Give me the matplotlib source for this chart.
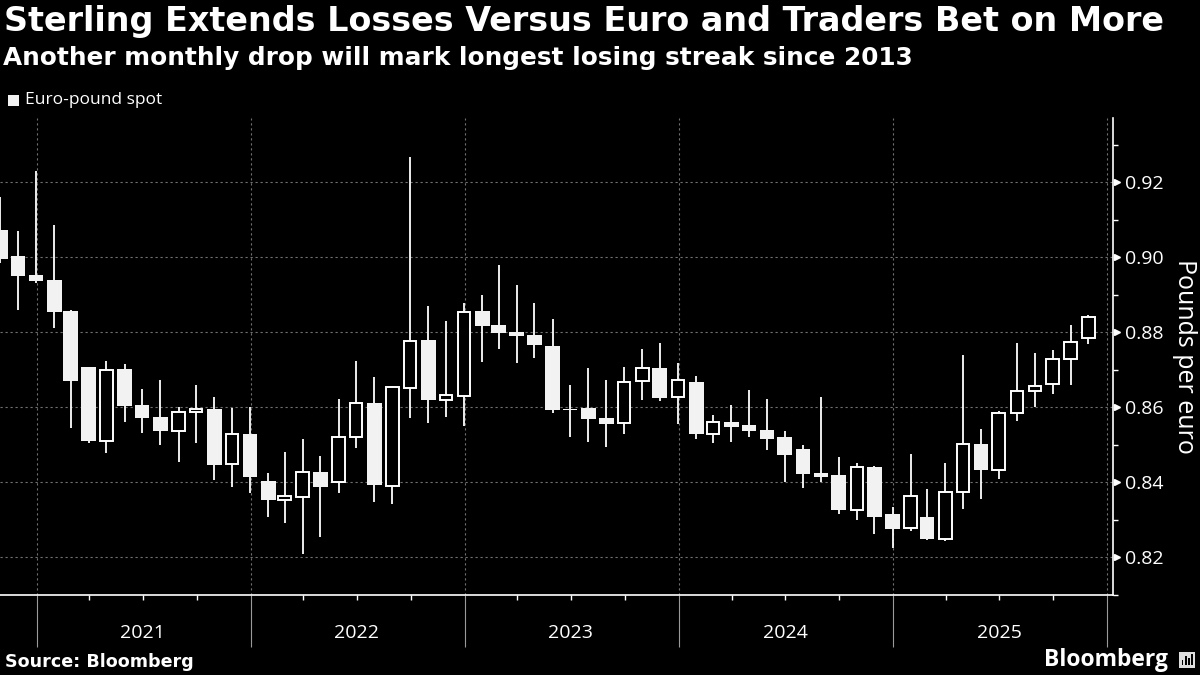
import matplotlib
matplotlib.use("Agg")
import matplotlib.pyplot as plt
import matplotlib.dates as mdates
from matplotlib.patches import Rectangle
import pandas as pd

# ---- data (monthly EUR/GBP candles, Oct 2020 - Nov 2025) ----
months = pd.date_range("2020-10-31", periods=62, freq="ME")
opens = [0.9072, 0.9003, 0.8952, 0.8939, 0.8856, 0.8707, 0.8510, 0.8701, 0.8605, 0.8573,
         0.8537, 0.8586, 0.8595, 0.8447, 0.8528, 0.8403, 0.8353, 0.8361, 0.8426, 0.8399,
         0.8519, 0.8610, 0.8390, 0.8651, 0.8778, 0.8620, 0.8630, 0.8856, 0.8819, 0.8800,
         0.8792, 0.8763, 0.8596, 0.8597, 0.8570, 0.8557, 0.8669, 0.8704, 0.8626, 0.8667,
         0.8527, 0.8560, 0.8552, 0.8539, 0.8520, 0.8488, 0.8423, 0.8419, 0.8326, 0.8440,
         0.8315, 0.8278, 0.8307, 0.8249, 0.8373, 0.8501, 0.8433, 0.8583, 0.8644, 0.8661,
         0.8727, 0.8783]
highs = [0.9161, 0.9069, 0.9229, 0.9085, 0.8859, 0.8707, 0.8723, 0.8715, 0.8648, 0.8672,
         0.8599, 0.8659, 0.8626, 0.8597, 0.8601, 0.8423, 0.8479, 0.8514, 0.8469, 0.8621,
         0.8723, 0.8679, 0.8655, 0.9266, 0.8869, 0.8829, 0.8877, 0.8898, 0.8979, 0.8925,
         0.8877, 0.8836, 0.8658, 0.8703, 0.8671, 0.8707, 0.8755, 0.8770, 0.8717, 0.8684,
         0.8578, 0.8605, 0.8645, 0.8621, 0.8536, 0.8500, 0.8626, 0.8466, 0.8450, 0.8444,
         0.8333, 0.8475, 0.8381, 0.8450, 0.8739, 0.8541, 0.8589, 0.8770, 0.8743, 0.8751,
         0.8819, 0.8845]
lows = [0.8983, 0.8860, 0.8930, 0.8811, 0.8543, 0.8503, 0.8477, 0.8561, 0.8531, 0.8499,
        0.8454, 0.8505, 0.8405, 0.8386, 0.8370, 0.8306, 0.8290, 0.8207, 0.8253, 0.8370,
        0.8490, 0.8348, 0.8341, 0.8570, 0.8558, 0.8574, 0.8550, 0.8721, 0.8756, 0.8718,
        0.8730, 0.8583, 0.8521, 0.8506, 0.8493, 0.8527, 0.8620, 0.8616, 0.8554, 0.8514,
        0.8503, 0.8506, 0.8521, 0.8485, 0.8399, 0.8384, 0.8401, 0.8314, 0.8299, 0.8261,
        0.8223, 0.8270, 0.8245, 0.8243, 0.8327, 0.8356, 0.8409, 0.8562, 0.8599, 0.8636,
        0.8660, 0.8767]
closes = [0.8995, 0.8949, 0.8937, 0.8853, 0.8670, 0.8510, 0.8700, 0.8603, 0.8571, 0.8537,
          0.8586, 0.8594, 0.8446, 0.8528, 0.8414, 0.8352, 0.8362, 0.8426, 0.8388, 0.8519,
          0.8610, 0.8393, 0.8653, 0.8775, 0.8620, 0.8631, 0.8853, 0.8817, 0.8798, 0.8790,
          0.8765, 0.8593, 0.8593, 0.8569, 0.8556, 0.8666, 0.8703, 0.8625, 0.8671, 0.8527,
          0.8559, 0.8547, 0.8537, 0.8516, 0.8473, 0.8422, 0.8414, 0.8326, 0.8439, 0.8307,
          0.8276, 0.8362, 0.8249, 0.8373, 0.8501, 0.8433, 0.8583, 0.8644, 0.8655, 0.8727,
          0.8773, 0.8839]
year_labels = ["2021", "2022", "2023", "2024", "2025"]
y_ticks = [0.82, 0.84, 0.86, 0.88, 0.90, 0.92]
y_minor = [0.81, 0.83, 0.85, 0.87, 0.89, 0.91, 0.93]

BG = "black"
FG = "white"
FILL = "#f2f2f2"
GRID = "#707070"
REG = ["Open Sans", "DejaVu Sans"]

plt.rcParams["font.family"] = ["DejaVu Sans"]
fig = plt.figure(figsize=(12, 6.75), dpi=100, facecolor=BG)
ax = fig.add_axes([0.0, 1 - 595 / 675, 1113 / 1200, (595 - 118) / 675])
ax.set_facecolor(BG)

x = mdates.date2num(months)
wick_w = 1.3
body_w = 25.0   # days
hollow_w = 21.5

for xi, o, h, l, c in zip(x, opens, highs, lows, closes):
    top, bot = max(o, c), min(o, c)
    if c >= o:
        ax.vlines(xi, top, h, color=FG, lw=wick_w, zorder=3)
        ax.vlines(xi, l, bot, color=FG, lw=wick_w, zorder=3)
        ax.add_patch(Rectangle((xi - hollow_w / 2, bot), hollow_w, max(top - bot, 0.0003),
                               facecolor=BG, edgecolor=FG, lw=1.4, zorder=4))
    else:
        ax.vlines(xi, l, h, color=FG, lw=wick_w, zorder=3)
        ax.add_patch(Rectangle((xi - body_w / 2, bot), body_w, max(top - bot, 0.0003),
                               facecolor=FILL, edgecolor="none", lw=0, zorder=4))

ax.set_xlim(mdates.date2num(pd.Timestamp("2020-10-31")) - 0.5,
            mdates.date2num(pd.Timestamp("2026-01-11")))
ax.set_ylim(0.80987, 0.93707)

for s in ["top", "left"]:
    ax.spines[s].set_visible(False)
for s in ["bottom", "right"]:
    ax.spines[s].set_color(FG)
    ax.spines[s].set_linewidth(1.2)

# x axis
ax.xaxis.set_major_locator(mdates.YearLocator())
ax.xaxis.set_minor_locator(mdates.MonthLocator(bymonth=[4, 7, 10]))
ax.tick_params(axis="x", which="major", length=37.5, width=0.8, color="#9a9a9a",
               labelbottom=False, direction="out")
ax.tick_params(axis="x", which="minor", length=3.5, width=1.0, color=FG, direction="out")
ax.grid(axis="x", which="major", color=GRID, linestyle=(0, (2, 2.5)), linewidth=0.8)

for lab in year_labels:
    xc = mdates.date2num(pd.Timestamp(f"{lab}-07-01"))
    ax.text(xc, -0.08, lab, transform=ax.get_xaxis_transform(), ha="center", va="center",
            color=FG, fontsize=14, family=REG)

# y axis on right
ax.yaxis.tick_right()
ax.set_yticks(y_ticks)
ax.set_yticklabels([f"{v:.2f}" for v in y_ticks])
ax.set_yticks(y_minor, minor=True)
ax.tick_params(axis="y", which="major", length=0, pad=9, labelcolor=FG, labelsize=14)
ax.tick_params(axis="y", which="minor", length=3.5, width=1.0, color=FG, direction="out")
for t in ax.get_yticklabels():
    t.set_family(REG)
ax.plot([1.004] * len(y_ticks), y_ticks, linestyle="none", marker=">", markersize=4.5,
        color=FG, transform=ax.get_yaxis_transform(), clip_on=False, zorder=5)
ax.grid(axis="y", which="major", color=GRID, linestyle=(0, (2, 2.5)), linewidth=0.8)
ax.set_axisbelow(True)

fig.text(1185 / 1200, 1 - 356.5 / 675, "Pounds per euro", rotation=270, ha="center",
         va="center", color=FG, fontsize=18, family=REG)

# titles
fig.text(4 / 1200, 1 - 5 / 675, "Sterling Extends Losses Versus Euro and Traders Bet on More",
         color=FG, fontsize=24, fontweight="bold", ha="left", va="top")
fig.text(3 / 1200, 1 - 46 / 675, "Another monthly drop will mark longest losing streak since 2013",
         color=FG, fontsize=17.8, fontweight="bold", ha="left", va="top")

# legend
fig.patches.append(Rectangle((8 / 1200, 1 - 106 / 675), 11 / 1200, 11 / 675,
                             transform=fig.transFigure, facecolor=FILL, edgecolor="none"))
fig.text(25 / 1200, 1 - 100 / 675, "Euro-pound spot", color=FG, fontsize=12.5,
         ha="left", va="center", family=REG)

# footer
fig.text(5 / 1200, 1 - 662 / 675, "Source: Bloomberg", color=FG, fontsize=12.6,
         fontweight="bold", ha="left", va="center")
fig.text(1168 / 1200, 1 - 660 / 675, "Bloomberg", color=FG, fontsize=16.5,
         fontweight="bold", ha="right", va="center", family=REG)
fig.patches.append(Rectangle((1179 / 1200, 1 - 668 / 675), 16 / 1200, 16 / 675,
                             transform=fig.transFigure, facecolor="#dddddd", edgecolor="none"))
for i, hgt in enumerate([5, 9, 7, 11]):
    fig.patches.append(Rectangle(((1181.5 + i * 3.2) / 1200, 1 - 665 / 675), 1.8 / 1200,
                                 hgt / 675, transform=fig.transFigure,
                                 facecolor="black", edgecolor="none"))

fig.savefig("out.png", dpi=100, facecolor=BG)
